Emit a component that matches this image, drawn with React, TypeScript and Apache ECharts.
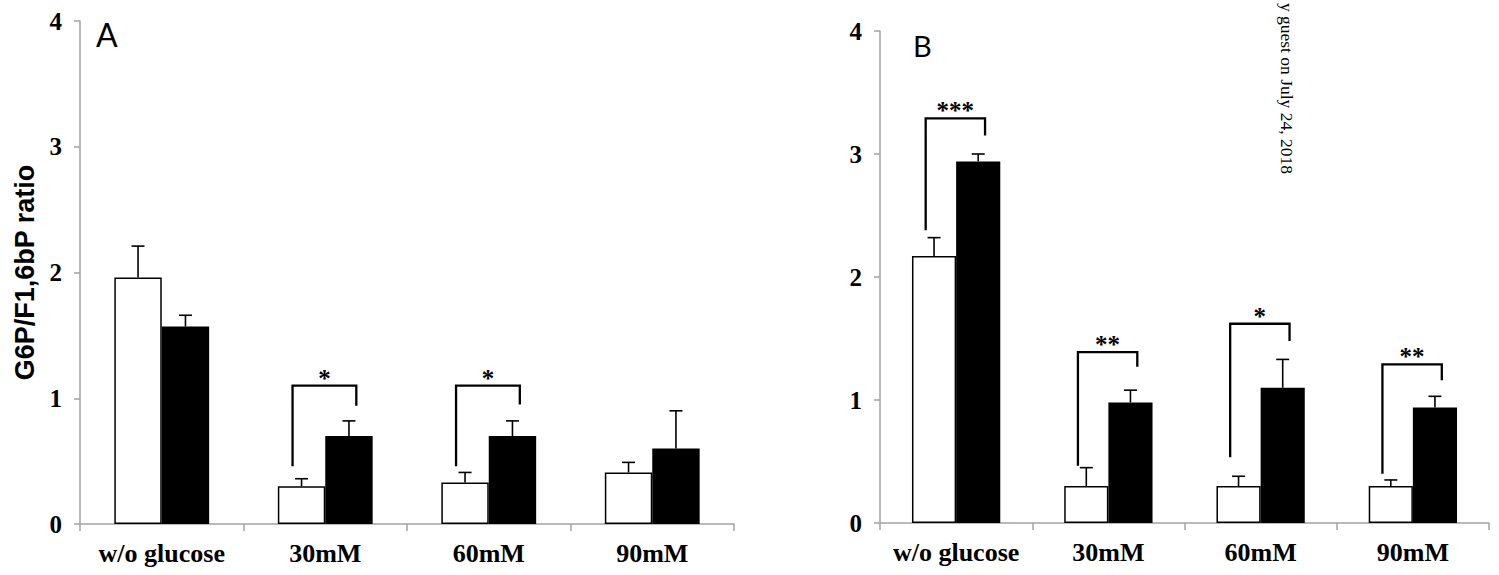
import React, { useEffect, useRef } from "react";
import * as echarts from "echarts";

const categories = ["w/o glucose", "30mM", "60mM", "90mM"];
const yTicks = [0, 1, 2, 3, 4];

// Panel A
const whiteA = [1.96, 0.3, 0.33, 0.41];
const whiteErrA = [0.25, 0.06, 0.08, 0.08];
const blackA = [1.57, 0.7, 0.7, 0.6];
const blackErrA = [0.09, 0.12, 0.12, 0.3];
const sigCatA = [1, 2];
const sigTopA = [1.1, 1.1];
const sigLeftA = [0.46, 0.46];
const sigRightA = [0.94, 0.95];
const sigLabelA = ["*", "*"];

// Panel B
const whiteB = [2.17, 0.3, 0.3, 0.3];
const whiteErrB = [0.15, 0.15, 0.08, 0.05];
const blackB = [2.94, 0.98, 1.1, 0.94];
const blackErrB = [0.06, 0.1, 0.23, 0.09];
const sigCatB = [0, 1, 2, 3];
const sigTopB = [3.29, 1.39, 1.62, 1.29];
const sigLeftB = [2.38, 0.465, 0.535, 0.4];
const sigRightB = [3.15, 1.27, 1.48, 1.16];
const sigLabelB = ["***", "**", "*", "**"];

const yTitle = "G6P/F1,6bP ratio";
const watermark = "y guest on July 24, 2018";

const AXIS_GRAY = "#a3a3a3";
const BAR_FRAC = 0.29;

function errData(vals: number[], errs: number[], side: number) {
  return vals.map((v, i) => [i, v, v + errs[i], side]);
}
function sigData(cats: number[], tops: number[], ls: number[], rs: number[]) {
  return cats.map((c, i) => [c, tops[i], ls[i], rs[i], i]);
}

function makeSeries(idx: number, white: number[], wErr: number[], black: number[], bErr: number[],
  sig: any[], labels: string[]) {
  const errRender = (params: any, api: any) => {
    const cat = api.value(0);
    const v = api.value(1);
    const e = api.value(2);
    const side = api.value(3);
    const w = api.size([1, 0])[0];
    const base = api.coord([cat, v]);
    const top = api.coord([cat, e]);
    const x = base[0] + side * w * BAR_FRAC / 2;
    const st = { stroke: "#000", lineWidth: 1.6 };
    return {
      type: "group",
      children: [
        { type: "line", shape: { x1: x, y1: base[1], x2: x, y2: top[1] }, style: st },
        { type: "line", shape: { x1: x - 6.5, y1: top[1], x2: x + 6.5, y2: top[1] }, style: st },
      ],
    };
  };
  const sigRender = (params: any, api: any) => {
    const cat = api.value(0);
    const t = api.value(1);
    const l = api.value(2);
    const r = api.value(3);
    const li = api.value(4);
    const w = api.size([1, 0])[0];
    const c = api.coord([cat, t]);
    const xl = c[0] - w * 0.2;
    const xr = c[0] + w * 0.19;
    const yl = api.coord([cat, l])[1];
    const yr = api.coord([cat, r])[1];
    const st = { stroke: "#000", lineWidth: 2.3, fill: "none" };
    return {
      type: "group",
      children: [
        { type: "polyline", shape: { points: [[xl, yl], [xl, c[1]], [xr, c[1]], [xr, yr]] }, style: st },
        {
          type: "text",
          x: (xl + xr) / 2,
          y: c[1] + 5,
          style: {
            text: labels[li],
            fill: "#000",
            fontSize: 25,
            fontWeight: "bold",
            fontFamily: "Liberation Serif",
            textAlign: "center",
            textVerticalAlign: "bottom",
          },
        },
      ],
    };
  };
  return [
    {
      type: "bar",
      xAxisIndex: idx,
      yAxisIndex: idx,
      data: white,
      barWidth: BAR_FRAC * 100 + "%",
      barGap: "0%",
      itemStyle: { color: "#fff", borderColor: "#000", borderWidth: 1.5 },
    },
    {
      type: "bar",
      xAxisIndex: idx,
      yAxisIndex: idx,
      data: black,
      barWidth: BAR_FRAC * 100 + "%",
      barGap: "0%",
      itemStyle: { color: "#000" },
    },
    {
      type: "custom",
      xAxisIndex: idx,
      yAxisIndex: idx,
      renderItem: errRender,
      data: [...errData(white, wErr, -1), ...errData(black, bErr, 1)],
      z: 5,
    },
    {
      type: "custom",
      xAxisIndex: idx,
      yAxisIndex: idx,
      renderItem: sigRender,
      data: sig,
      z: 6,
    },
  ];
}

function xAxisCfg(idx: number) {
  return {
    type: "category",
    gridIndex: idx,
    data: categories,
    axisLine: { lineStyle: { color: AXIS_GRAY, width: 1.5 } },
    axisTick: { show: true, length: 7, lineStyle: { color: AXIS_GRAY, width: 1.5 } },
    axisLabel: {
      interval: 0,
      color: "#000",
      fontFamily: "Liberation Serif",
      fontWeight: "bold",
      fontSize: 26,
      margin: 16,
    },
  };
}
function yAxisCfg(idx: number, withName: boolean) {
  return {
    type: "value",
    gridIndex: idx,
    min: yTicks[0],
    max: yTicks[yTicks.length - 1],
    interval: 1,
    name: withName ? yTitle : "",
    nameLocation: "middle",
    nameRotate: 90,
    nameGap: 42,
    nameTextStyle: {
      color: "#000",
      fontFamily: "Liberation Sans",
      fontWeight: "bold",
      fontSize: 27,
    },
    axisLine: { show: true, lineStyle: { color: AXIS_GRAY, width: 1.5 } },
    axisTick: { show: true, length: 6, lineStyle: { color: AXIS_GRAY, width: 1.5 } },
    splitLine: { show: false },
    axisLabel: {
      color: "#000",
      fontFamily: "Liberation Serif",
      fontWeight: "bold",
      fontSize: 25,
      margin: 18,
    },
  };
}

export default function App() {
  const ref = useRef<HTMLDivElement>(null);
  useEffect(() => {
    if (!ref.current) return;
    const chart = echarts.init(ref.current, undefined, { renderer: "svg" });
    chart.setOption({
      animation: false,
      backgroundColor: "#fff",
      grid: [
        { left: 80, top: 21, width: 654, height: 503 },
        { left: 880, top: 31, width: 609, height: 492 },
      ],
      xAxis: [xAxisCfg(0), xAxisCfg(1)],
      yAxis: [yAxisCfg(0, true), yAxisCfg(1, false)],
      series: [
        ...makeSeries(0, whiteA, whiteErrA, blackA, blackErrA, sigData(sigCatA, sigTopA, sigLeftA, sigRightA), sigLabelA),
        ...makeSeries(1, whiteB, whiteErrB, blackB, blackErrB, sigData(sigCatB, sigTopB, sigLeftB, sigRightB), sigLabelB),
      ],
      graphic: [
        {
          type: "text",
          left: 96,
          top: 18,
          style: { text: "A", fontFamily: "Lato", fontSize: 32, fill: "#000" },
        },
        {
          type: "text",
          left: 913,
          top: 31,
          style: { text: "B", fontFamily: "Lato", fontSize: 29, fill: "#000" },
        },
        {
          type: "text",
          x: 1287,
          y: 174,
          rotation: -Math.PI / 2,
          style: {
            text: watermark,
            fontFamily: "Liberation Serif",
            fontSize: 17.5,
            fill: "#000",
            textAlign: "right",
            textVerticalAlign: "middle",
          },
        },
      ],
    });
    return () => chart.dispose();
  }, []);
  return (
    <div
      ref={ref}
      style={{ position: "fixed", left: 0, top: 0, width: 1499, height: 575, background: "#fff" }}
    />
  );
}
